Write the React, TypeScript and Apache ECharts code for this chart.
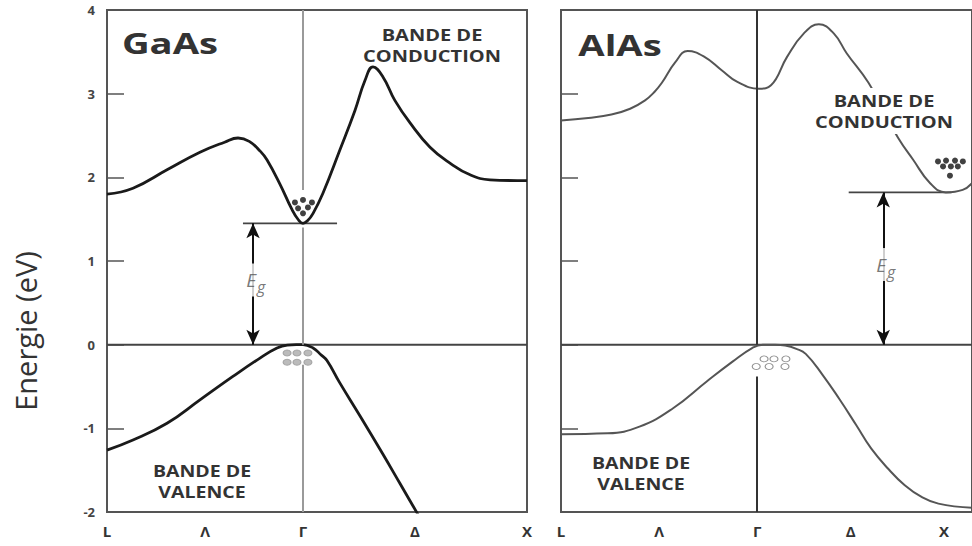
import React, { useEffect, useRef } from "react";
import * as echarts from "echarts";

// High-symmetry points along the k path
const K_LABELS = ["L", "Λ", "Γ", "Δ", "X"];
const GAAS_K_POINTS = [-0.875, -0.4375, 0, 0.5, 1];
const ALAS_K_POINTS = [-1.05, -0.525, 0, 0.5, 1];
const ALAS_K_MAX = 1.15;

// Energy axis (eV)
const E_MIN = -2;
const E_MAX = 4;

// GaAs conduction band
const GAAS_CB_K = [-0.875, -0.759, -0.607, -0.46, -0.35, -0.29, -0.24, -0.19, -0.161, -0.103, -0.05, -0.02, 0, 0.02, 0.045, 0.089, 0.165, 0.232, 0.277, 0.3125, 0.357, 0.41, 0.478, 0.567, 0.656, 0.746, 0.835, 1.0];
const GAAS_CB_E = [1.8, 1.87, 2.09, 2.3, 2.42, 2.47, 2.43, 2.31, 2.21, 1.92, 1.62, 1.49, 1.45, 1.48, 1.57, 1.81, 2.33, 2.8, 3.16, 3.32, 3.2, 2.92, 2.65, 2.36, 2.17, 2.03, 1.97, 1.96];

// GaAs valence band
const GAAS_VB_K = [-0.875, -0.759, -0.607, -0.46, -0.313, -0.192, -0.116, -0.07, -0.03, 0, 0.045, 0.08, 0.107, 0.165, 0.254, 0.357, 0.433, 0.509, 0.55];
const GAAS_VB_E = [-1.26, -1.14, -0.94, -0.66, -0.38, -0.16, -0.04, -0.005, 0, 0, -0.04, -0.12, -0.19, -0.46, -0.85, -1.31, -1.66, -2.01, -2.2];

// AlAs conduction band
const ALAS_CB_K = [-1.05, -0.904, -0.78, -0.68, -0.6, -0.55, -0.51, -0.44, -0.372, -0.282, -0.19, -0.106, 0.01, 0.074, 0.16, 0.25, 0.33, 0.41, 0.48, 0.596, 0.675, 0.755, 0.835, 0.926, 1.01, 1.1, 1.15];
const ALAS_CB_E = [2.68, 2.71, 2.75, 2.82, 2.92, 3.02, 3.13, 3.37, 3.51, 3.44, 3.28, 3.14, 3.06, 3.1, 3.44, 3.72, 3.83, 3.72, 3.48, 3.13, 2.8, 2.47, 2.21, 1.93, 1.82, 1.85, 1.93];

// AlAs valence band
const ALAS_VB_K = [-1.05, -0.8, -0.63, -0.45, -0.27, -0.13, -0.027, 0.03, 0.095, 0.15, 0.21, 0.26, 0.35, 0.44, 0.53, 0.61, 0.7, 0.79, 0.88, 0.97, 1.15];
const ALAS_VB_E = [-1.07, -1.06, -0.98, -0.76, -0.44, -0.2, -0.04, 0, 0, -0.01, -0.05, -0.11, -0.36, -0.65, -0.96, -1.24, -1.48, -1.68, -1.82, -1.9, -1.95];

// Band gaps (eV) and where the gap arrow / level line sit
const GAAS_EG = 1.45;
const ALAS_EG = 1.82;
const GAAS_ARROW_K = -0.223;
const ALAS_ARROW_K = 0.675;
const GAAS_EG_LINE_K = [-0.268, 0.152];
const ALAS_EG_LINE_K = [0.49, 1.04];

// Γ line segments (breaks around the carriers)
const GAAS_GAMMA_SEGMENTS = [[4, 1.85], [1.4, 0], [-0.24, -2]];
const ALAS_GAMMA_SEGMENTS = [[4, 0], [-0.38, -2]];

// Carriers: electrons (filled) and holes (open)
const GAAS_ELECTRONS_K = [-0.036, 0, 0.04, -0.022, 0.022, 0];
const GAAS_ELECTRONS_E = [1.7, 1.73, 1.7, 1.63, 1.64, 1.57];
const GAAS_HOLES_K = [-0.071, -0.027, 0.022, -0.071, -0.027, 0.022];
const GAAS_HOLES_E = [-0.1, -0.1, -0.1, -0.21, -0.21, -0.21];
const ALAS_ELECTRONS_K = [0.968, 1.011, 1.059, 1.101, 0.995, 1.037, 1.074, 1.032];
const ALAS_ELECTRONS_E = [2.19, 2.2, 2.2, 2.19, 2.13, 2.13, 2.13, 2.02];
const ALAS_HOLES_K = [0.037, 0.09, 0.154, -0.005, 0.064, 0.149];
const ALAS_HOLES_E = [-0.17, -0.17, -0.17, -0.26, -0.26, -0.26];

const zip = (k: number[], e: number[]) => k.map((x, i) => [x, e[i]]);

const FONT = "'Open Sans', 'DejaVu Sans', sans-serif";

function xAxisFor(gridIndex: number, points: number[], max: number) {
  return {
    type: "value",
    gridIndex,
    min: points[0],
    max,
    axisLine: { show: false, onZero: false },
    axisTick: { show: false },
    splitLine: { show: false },
    axisLabel: {
      customValues: points,
      formatter: (v: number) => {
        const i = points.findIndex((p) => Math.abs(p - v) < 1e-6);
        return i >= 0 ? K_LABELS[i] : "";
      },
      margin: 11,
      fontFamily: FONT,
      fontWeight: "bold",
      fontSize: 15,
      color: "#333",
    },
  };
}

function yAxisFor(gridIndex: number, showLabels: boolean) {
  return {
    type: "value",
    gridIndex,
    min: E_MIN,
    max: E_MAX,
    interval: 1,
    axisLine: { show: false, onZero: false },
    splitLine: { show: false },
    axisTick: { show: true, inside: true, length: 17, lineStyle: { color: "#555", width: 1.5 } },
    axisLabel: {
      show: showLabels,
      margin: 12,
      fontFamily: FONT,
      fontWeight: "bold",
      fontSize: 13,
      color: "#444",
    },
  };
}

// "E" with a subscript "g", centred on the gap arrow
function egLabel(k: number, eg: number, idx: number) {
  const base = { fontFamily: FONT, fontStyle: "italic", color: "#555" };
  return {
    type: "scatter",
    xAxisIndex: idx,
    yAxisIndex: idx,
    symbolSize: 0,
    z: 6,
    data: [
      {
        value: [k, eg / 2],
        label: {
          show: true,
          position: "inside",
          formatter: "E",
          ...base,
          fontSize: 19,
          offset: [-2, -4],
          backgroundColor: "#fff",
          padding: [7, 4, 7, 4],
        },
      },
      {
        value: [k, eg / 2],
        label: {
          show: true,
          position: "inside",
          formatter: "g",
          ...base,
          fontSize: 16,
          offset: [8, 3],
        },
      },
    ],
  };
}

function panel(
  idx: number,
  cb: number[][],
  vb: number[][],
  bandColor: string,
  bandWidth: number,
  kMin: number,
  kMax: number,
  eg: number,
  arrowK: number,
  egLineK: number[],
  gammaSegs: number[][],
  gammaColor: string,
  electrons: number[][],
  holes: number[][],
  holeFill: string,
  holeBorder: string,
) {
  const band = (name: string, data: number[][]) => ({
    type: "line",
    name,
    xAxisIndex: idx,
    yAxisIndex: idx,
    data,
    smooth: 0.45,
    symbol: "none",
    lineStyle: { color: bandColor, width: bandWidth },
    z: 3,
  });
  return [
    {
      type: "line",
      name: "zero",
      xAxisIndex: idx,
      yAxisIndex: idx,
      data: [[kMin, 0], [kMax, 0]],
      symbol: "none",
      lineStyle: { color: "#444", width: 2 },
      z: 1,
      markLine: {
        silent: true,
        symbol: "none",
        label: { show: false },
        lineStyle: { color: gammaColor, width: 2, type: "solid" },
        data: gammaSegs.map((s) => [{ coord: [0, s[0]] }, { coord: [0, s[1]] }]),
      },
    },
    {
      type: "line",
      name: "Eg",
      xAxisIndex: idx,
      yAxisIndex: idx,
      data: [[egLineK[0], eg], [egLineK[1], eg]],
      symbol: "none",
      lineStyle: { color: "#444", width: 1.6 },
      z: 2,
      markLine: {
        silent: true,
        symbol: ["arrow", "arrow"],
        symbolSize: [10, 15],
        label: { show: false },
        lineStyle: { color: "#111", width: 2, type: "solid" },
        data: [[{ coord: [arrowK, 0] }, { coord: [arrowK, eg] }]],
      },
    },
    band("conduction", cb),
    band("valence", vb),
    {
      type: "scatter",
      name: "electrons",
      xAxisIndex: idx,
      yAxisIndex: idx,
      data: electrons,
      symbol: "circle",
      symbolSize: 6,
      itemStyle: { color: "#111" },
      z: 4,
    },
    {
      type: "scatter",
      name: "holes",
      xAxisIndex: idx,
      yAxisIndex: idx,
      data: holes,
      symbol: "circle",
      symbolSize: [8, 6],
      itemStyle: { color: holeFill, borderColor: holeBorder, borderWidth: 1 },
      z: 4,
    },
    egLabel(arrowK, eg, idx),
  ];
}

function bandText(text: string, x: number, y: number, size: number, sx: number, bg = false) {
  return {
    type: "text",
    x,
    y,
    scaleX: sx,
    z: 50,
    style: {
      text,
      fontFamily: FONT,
      fontWeight: "bold",
      fontSize: size,
      lineHeight: size + 5,
      fill: "#333",
      align: "center",
      verticalAlign: "middle",
      backgroundColor: bg ? "#fff" : undefined,
      padding: bg ? [2, 4] : 0,
    },
  };
}

export default function App() {
  const ref = useRef<HTMLDivElement>(null);

  useEffect(() => {
    if (!ref.current) return;
    const chart = echarts.init(ref.current, undefined, { renderer: "svg" });

    const option = {
      animation: false,
      backgroundColor: "#fff",
      grid: [
        { left: 107, top: 10, width: 420, height: 502, show: true, borderColor: "#555", borderWidth: 2 },
        { left: 561, top: 10, width: 414, height: 502, show: true, borderColor: "#555", borderWidth: 2 },
      ],
      xAxis: [
        xAxisFor(0, GAAS_K_POINTS, GAAS_K_POINTS[4]),
        xAxisFor(1, ALAS_K_POINTS, ALAS_K_MAX),
      ],
      yAxis: [yAxisFor(0, true), yAxisFor(1, false)],
      series: [
        ...panel(
          0,
          zip(GAAS_CB_K, GAAS_CB_E),
          zip(GAAS_VB_K, GAAS_VB_E),
          "#1a1a1a",
          2.8,
          GAAS_K_POINTS[0],
          GAAS_K_POINTS[4],
          GAAS_EG,
          GAAS_ARROW_K,
          GAAS_EG_LINE_K,
          GAAS_GAMMA_SEGMENTS,
          "#9a9a9a",
          zip(GAAS_ELECTRONS_K, GAAS_ELECTRONS_E),
          zip(GAAS_HOLES_K, GAAS_HOLES_E),
          "#aaa",
          "#999",
        ),
        ...panel(
          1,
          zip(ALAS_CB_K, ALAS_CB_E),
          zip(ALAS_VB_K, ALAS_VB_E),
          "#555",
          2,
          ALAS_K_POINTS[0],
          ALAS_K_MAX,
          ALAS_EG,
          ALAS_ARROW_K,
          ALAS_EG_LINE_K,
          ALAS_GAMMA_SEGMENTS,
          "#333",
          zip(ALAS_ELECTRONS_K, ALAS_ELECTRONS_E),
          zip(ALAS_HOLES_K, ALAS_HOLES_E),
          "#fff",
          "#777",
        ),
      ],
      graphic: [
        {
          type: "text",
          x: 25,
          y: 331,
          rotation: Math.PI / 2,
          z: 50,
          style: {
            text: "Energie (eV)",
            fontFamily: FONT,
            fontSize: 29,
            fill: "#333",
            align: "center",
            verticalAlign: "middle",
          },
        },
        bandText("GaAs", 170, 43, 29, 1.32),
        bandText("AlAs", 620, 45, 29, 1.32),
        bandText("BANDE DE\nCONDUCTION", 432, 45, 16, 1.25),
        bandText("BANDE DE\nCONDUCTION", 884, 111, 16, 1.25, true),
        bandText("BANDE DE\nVALENCE", 202, 481, 16, 1.22),
        bandText("BANDE DE\nVALENCE", 641, 473, 16, 1.22),
      ],
    };

    chart.setOption(option as any);
    return () => chart.dispose();
  }, []);

  return (
    <div
      ref={ref}
      style={{ position: "fixed", left: 0, top: 0, width: 972, height: 546, background: "#fff" }}
    />
  );
}
